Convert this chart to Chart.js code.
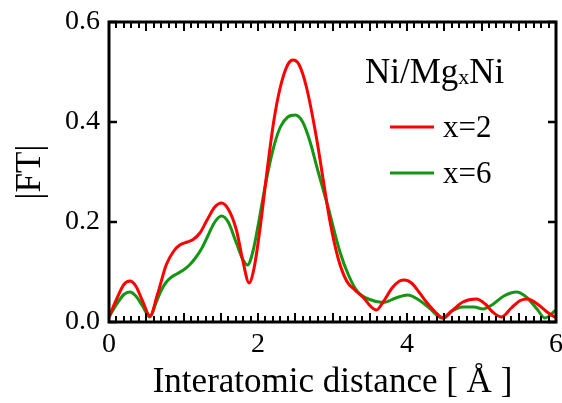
<!DOCTYPE html>
<html>
<head>
<meta charset="utf-8">
<script src="https://cdn.jsdelivr.net/npm/chart.js@4.4.0/dist/chart.umd.min.js"></script>
<style>
  html, body { margin: 0; padding: 0; background: #fff; }
</style>
</head>
<body>
<canvas id="ftChart" width="562" height="403"></canvas>
<script>
// distance (Å) and |FT|
const distX2 = [0.00, 0.10, 0.20, 0.28, 0.36, 0.45, 0.55, 0.65, 0.77, 0.87, 0.95, 1.05, 1.13, 1.22, 1.32, 1.42, 1.51, 1.60, 1.71, 1.80, 1.88, 1.95, 2.03, 2.12, 2.21, 2.30, 2.40, 2.47, 2.55, 2.65, 2.79, 2.88, 2.97, 3.08, 3.19, 3.30, 3.42, 3.52, 3.59, 3.68, 3.80, 3.90, 3.97, 4.06, 4.16, 4.26, 4.38, 4.49, 4.60, 4.75, 4.93, 5.05, 5.15, 5.27, 5.40, 5.52, 5.62, 5.75, 5.88, 6.00];
const ftX2 = [0.010, 0.045, 0.075, 0.082, 0.072, 0.042, 0.012, 0.055, 0.115, 0.142, 0.154, 0.160, 0.165, 0.178, 0.205, 0.230, 0.238, 0.226, 0.184, 0.120, 0.078, 0.110, 0.190, 0.300, 0.400, 0.470, 0.515, 0.524, 0.515, 0.470, 0.364, 0.280, 0.198, 0.125, 0.082, 0.064, 0.048, 0.030, 0.024, 0.040, 0.068, 0.082, 0.084, 0.078, 0.060, 0.040, 0.020, 0.008, 0.022, 0.040, 0.046, 0.036, 0.020, 0.010, 0.028, 0.043, 0.046, 0.036, 0.020, 0.008];

const distX6 = [0.00, 0.10, 0.20, 0.28, 0.36, 0.45, 0.55, 0.63, 0.70, 0.77, 0.84, 0.92, 1.00, 1.08, 1.16, 1.24, 1.32, 1.42, 1.51, 1.60, 1.71, 1.80, 1.86, 1.93, 2.01, 2.10, 2.20, 2.30, 2.40, 2.50, 2.60, 2.70, 2.79, 2.94, 3.10, 3.22, 3.34, 3.50, 3.68, 3.85, 4.01, 4.15, 4.30, 4.47, 4.60, 4.75, 4.90, 5.02, 5.15, 5.30, 5.47, 5.60, 5.75, 5.85, 6.00];
const ftX6 = [0.010, 0.035, 0.055, 0.060, 0.052, 0.032, 0.010, 0.038, 0.063, 0.080, 0.090, 0.097, 0.104, 0.114, 0.128, 0.146, 0.170, 0.200, 0.212, 0.200, 0.158, 0.124, 0.114, 0.140, 0.200, 0.275, 0.344, 0.390, 0.410, 0.414, 0.400, 0.360, 0.310, 0.230, 0.140, 0.092, 0.060, 0.045, 0.039, 0.048, 0.054, 0.045, 0.028, 0.008, 0.022, 0.030, 0.030, 0.026, 0.035, 0.052, 0.060, 0.050, 0.025, 0.008, 0.024];

const seriesLabels = ["x=2", "x=6"];
const seriesColors = ["#ff0000", "#149614"];
const xTickLabels = [0, 2, 4, 6];
const yTickLabels = [0, 0.2, 0.4, 0.6];

const serif = "'Liberation Serif', 'DejaVu Serif', serif";

function toPoints(xs, ys) {
  return xs.map((x, i) => ({ x: x, y: ys[i] }));
}

// frame, inward ticks and the legend box in the upper right
const framePlugin = {
  id: "frame",
  afterDraw(chart) {
    const ctx = chart.ctx;
    const a = chart.chartArea;
    const xs = chart.scales.x;
    const ys = chart.scales.y;
    ctx.save();
    ctx.strokeStyle = "#000";

    // x minor ticks every 0.1, longer every 0.5
    ctx.lineWidth = 2;
    for (let i = 1; i < 60; i++) {
      const px = Math.round(xs.getPixelForValue(i / 10));
      const len = i % 5 === 0 ? 9 : 6;
      ctx.beginPath();
      ctx.moveTo(px, a.bottom);
      ctx.lineTo(px, a.bottom - len);
      ctx.moveTo(px, a.top);
      ctx.lineTo(px, a.top + len);
      ctx.stroke();
    }
    // y major ticks
    ctx.lineWidth = 2.5;
    yTickLabels.forEach(v => {
      const py = ys.getPixelForValue(v);
      ctx.beginPath();
      ctx.moveTo(a.left, py);
      ctx.lineTo(a.left + 8, py);
      ctx.moveTo(a.right, py);
      ctx.lineTo(a.right - 8, py);
      ctx.stroke();
    });
    // box
    ctx.lineWidth = 3;
    ctx.strokeRect(a.left, a.top, a.right - a.left, a.bottom - a.top);

    // legend
    ctx.fillStyle = "#000";
    ctx.textBaseline = "alphabetic";
    ctx.textAlign = "left";
    let tx = 365;
    const ty = 83;
    ctx.font = "35px " + serif;
    ctx.fillText("Ni/Mg", tx, ty);
    tx += ctx.measureText("Ni/Mg").width;
    ctx.font = "22px " + serif;
    ctx.fillText("x", tx, ty + 1);
    tx += ctx.measureText("x").width;
    ctx.font = "35px " + serif;
    ctx.fillText("Ni", tx, ty);

    ctx.font = "31px " + serif;
    ctx.textBaseline = "middle";
    chart.data.datasets.forEach((ds, i) => {
      const ly = 127 + i * 46;
      ctx.strokeStyle = ds.borderColor;
      ctx.lineWidth = 3;
      ctx.beginPath();
      ctx.moveTo(390, ly);
      ctx.lineTo(434, ly);
      ctx.stroke();
      ctx.fillText(ds.label, 443, ly + 2);
    });
    ctx.restore();
  }
};

new Chart(document.getElementById("ftChart"), {
  type: "line",
  data: {
    datasets: [
      {
        label: seriesLabels[0],
        data: toPoints(distX2, ftX2),
        borderColor: seriesColors[0],
        borderWidth: 3,
        pointRadius: 0,
        cubicInterpolationMode: "monotone",
        fill: false
      },
      {
        label: seriesLabels[1],
        data: toPoints(distX6, ftX6),
        borderColor: seriesColors[1],
        borderWidth: 3,
        pointRadius: 0,
        cubicInterpolationMode: "monotone",
        fill: false
      }
    ]
  },
  options: {
    responsive: false,
    animation: false,
    devicePixelRatio: 1,
    layout: { padding: { top: 22, right: 6, left: 0, bottom: 0 } },
    plugins: {
      legend: { display: false },
      tooltip: { enabled: false }
    },
    scales: {
      x: {
        type: "linear",
        min: 0,
        max: 6,
        afterBuildTicks: s => { s.ticks = xTickLabels.map(v => ({ value: v })); },
        afterFit: s => { s.height = 81; s.paddingLeft = 0; s.paddingRight = 0; },
        grid: { display: false, drawTicks: false },
        border: { display: false },
        ticks: {
          color: "#000",
          font: { family: serif, size: 28 },
          padding: 6,
          maxRotation: 0,
          autoSkip: false
        },
        title: {
          display: true,
          text: "Interatomic distance [ Å ]",
          color: "#000",
          font: { family: serif, size: 35, lineHeight: 1 },
          padding: { top: 0, bottom: 3 }
        }
      },
      y: {
        min: 0,
        max: 0.6,
        afterBuildTicks: s => { s.ticks = yTickLabels.map(v => ({ value: v })); },
        afterFit: s => { s.width = 109; s.paddingTop = 0; s.paddingBottom = 0; },
        grid: { display: false, drawTicks: false },
        border: { display: false },
        ticks: {
          color: "#000",
          font: { family: serif, size: 28 },
          padding: 9,
          callback: v => v.toFixed(1)
        },
        title: {
          display: true,
          text: "|FT|",
          color: "#000",
          font: { family: serif, size: 35, lineHeight: 1 },
          padding: { top: 13, bottom: 0 }
        }
      }
    }
  },
  plugins: [framePlugin]
});
</script>
</body>
</html>
